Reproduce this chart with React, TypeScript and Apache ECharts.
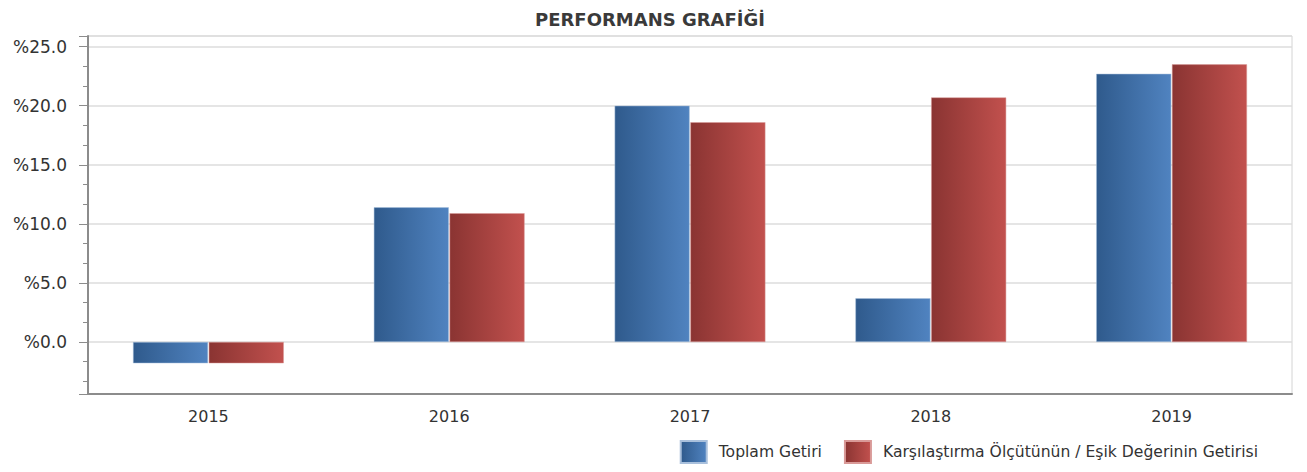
import React, { useEffect, useRef } from "react";
import * as echarts from "echarts";

const categories = ["2015", "2016", "2017", "2018", "2019"];
const toplamGetiri = [-1.8, 11.4, 20.0, 3.7, 22.7];
const karsilastirma = [-1.8, 10.9, 18.6, 20.7, 23.5];
const seriesNames = ["Toplam Getiri", "Karşılaştırma Ölçütünün / Eşik Değerinin Getirisi"];
const titleText = "PERFORMANS GRAFİĞİ";

const FONT = "DejaVu Sans";

export default function App() {
  const ref = useRef<HTMLDivElement>(null);
  useEffect(() => {
    if (!ref.current) return;
    const chart = echarts.init(ref.current, undefined, { renderer: "svg" });
    const grad = (a: string, b: string) =>
      new echarts.graphic.LinearGradient(0, 0, 1, 0, [
        { offset: 0, color: a },
        { offset: 1, color: b },
      ]);
    chart.setOption({
      animation: false,
      backgroundColor: "#ffffff",
      title: {
        text: titleText,
        left: 530,
        top: 5,
        textStyle: { fontFamily: FONT, fontSize: 18, fontWeight: "bold", color: "#3a3a3a" },
      },
      legend: {
        bottom: 3,
        right: 44,
        itemWidth: 26,
        itemHeight: 22,
        itemGap: 22,
        icon: "rect",
        textStyle: { fontFamily: FONT, fontSize: 15.6, color: "#333", padding: [0, 0, 0, 7] },
        data: seriesNames,
      },
      grid: { left: 88, right: 15, top: 36, bottom: 78, show: true, borderColor: "#d4d4d4", borderWidth: 1 },
      xAxis: {
        type: "category",
        data: categories,
        axisLine: { onZero: false, lineStyle: { color: "#8c8c8c", width: 2 } },
        axisTick: { alignWithLabel: true, length: 8, lineStyle: { color: "#b0b0b0", width: 2 } },
        axisLabel: { fontFamily: FONT, fontSize: 16, color: "#333", margin: 14 },
      },
      yAxis: {
        type: "value",
        min: -4.4,
        max: 25.9,
        splitNumber: 5,
        axisLine: { show: true, lineStyle: { color: "#8c8c8c", width: 2 } },
        axisTick: { show: true, length: 9, lineStyle: { color: "#8c8c8c" } },
        minorTick: { show: true, splitNumber: 3, length: 5, lineStyle: { color: "#8c8c8c" } },
        splitLine: { lineStyle: { color: "#dcdcdc", width: 1.5 } },
        axisLabel: {
          fontFamily: FONT,
          fontSize: 17,
          color: "#333",
          margin: 21,
          showMinLabel: false,
          showMaxLabel: false,
          formatter: (v: number) => "%" + v.toFixed(1),
        },
      },
      series: [
        {
          name: seriesNames[0],
          type: "bar",
          data: toplamGetiri,
          barWidth: 75,
          barGap: "1%",
          itemStyle: { color: grad("#2f5a8c", "#5083c0"), borderColor: "#a9c0dc", borderWidth: 0.5 },
        },
        {
          name: seriesNames[1],
          type: "bar",
          data: karsilastirma,
          barWidth: 75,
          barGap: "1%",
          itemStyle: { color: grad("#8a3432", "#c2514e"), borderColor: "#d99a98", borderWidth: 0.5 },
        },
      ],
    });
    return () => chart.dispose();
  }, []);
  return <div ref={ref} style={{ width: 1307, height: 472, position: "absolute", left: 0, top: 0 }} />;
}
